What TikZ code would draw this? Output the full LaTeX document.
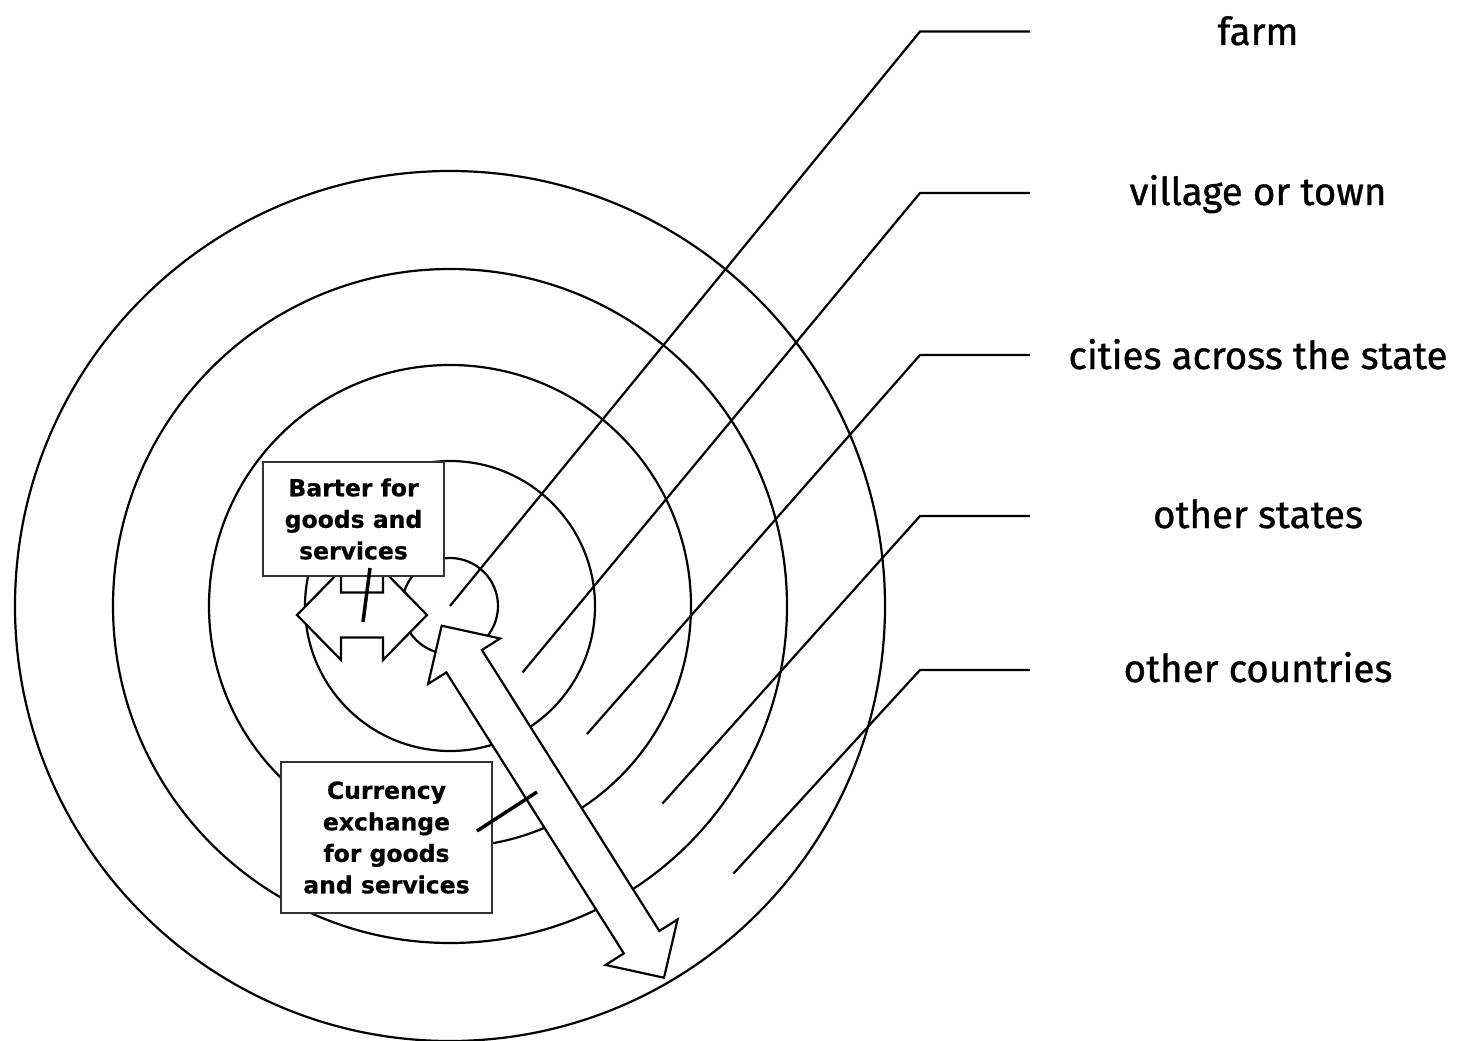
\documentclass[tikz,border=0pt]{standalone}
\usepackage{fontspec}
\setmainfont{DejaVu Sans}
\newfontfamily\labfont{Fira Sans}[FakeBold=0.9]
\newfontfamily\boxfont{DejaVu Sans}[BoldFeatures={FakeBold=0.6}]
\begin{document}
\begin{tikzpicture}[x=1pt,y=-1pt,
  ring/.style={draw=black, line width=2.2pt},
  leader/.style={draw=black, line width=2.2pt},
  blockarrow/.style={draw=black, fill=white, line width=2.2pt, line join=miter},
  infobox/.style={draw=black!80, fill=white, line width=1.3pt,
    font=\boxfont\bfseries\fontsize{23.5}{31.5}\selectfont, align=center, inner sep=0pt},
  lab/.style={font=\labfont\fontsize{38.5}{44}\selectfont, anchor=base},
  link/.style={draw=black, line width=3.5pt}]
\useasboundingbox[fill=white] (0,0) rectangle (1459,1041);
% rings
\coordinate (c) at (450,606);
\foreach \r in {435,337,241,145,48} \draw[ring] (c) circle[radius=\r pt];
% leader lines
\coordinate (e1) at (450,606);
\coordinate (e2) at (522.5,672.5);
\coordinate (e3) at (587,734);
\coordinate (e4) at (662.5,803.5);
\coordinate (e5) at (733.5,873.5);
\coordinate (k1) at (920,31.5);  \coordinate (h1) at (1030,31.5);
\coordinate (k2) at (920,193);   \coordinate (h2) at (1030,193);
\coordinate (k3) at (920,355);   \coordinate (h3) at (1030,355);
\coordinate (k4) at (920,516);   \coordinate (h4) at (1030,516);
\coordinate (k5) at (920,670);   \coordinate (h5) at (1030,670);
\draw[leader] (e1) -- (k1) -- (h1);
\draw[leader] (e2) -- (k2) -- (h2);
\draw[leader] (e3) -- (k3) -- (h3);
\draw[leader] (e4) -- (k4) -- (h4);
\draw[leader] (e5) -- (k5) -- (h5);
% labels
\node[lab] (l1) at (1258,45) {farm};
\node[lab] (l2) at (1258,205) {village or town};
\node[lab] (l3) at (1258,369) {cities across the state};
\node[lab] (l4) at (1258,528) {other states};
\node[lab] (l5) at (1258,682) {other countries};
% big double arrow
\draw[blockarrow] (441.7,625.7) -- (500.15,638.46) -- (481.89,650.0) -- (659.33,930.98)
  -- (677.59,919.44) -- (664,977.7) -- (605.55,964.94) -- (623.81,953.4)
  -- (446.37,672.42) -- (428.11,683.96) -- cycle;
% small double arrow
\draw[blockarrow] (297,615) -- (341,570) -- (341,592.5) -- (383,592.5) -- (383,570)
  -- (427,615) -- (383,660) -- (383,637.5) -- (341,637.5) -- (341,660) -- cycle;
% boxes
\node[infobox, minimum width=181pt, minimum height=114pt] (barter) at (353.5,519)
  {Barter for\\goods and\\services};
\node[infobox, minimum width=211pt, minimum height=151pt] (currency) at (386.5,837.5)
  {Currency\\exchange\\for goods\\and services};
% connectors from boxes to arrows
\coordinate (bt) at (370,568);
\coordinate (ba) at (363,622);
\coordinate (ct) at (477,831);
\coordinate (ca) at (537,792);
\draw[link] (bt) -- (ba);
\draw[link] (ct) -- (ca);
\end{tikzpicture}
\end{document}
